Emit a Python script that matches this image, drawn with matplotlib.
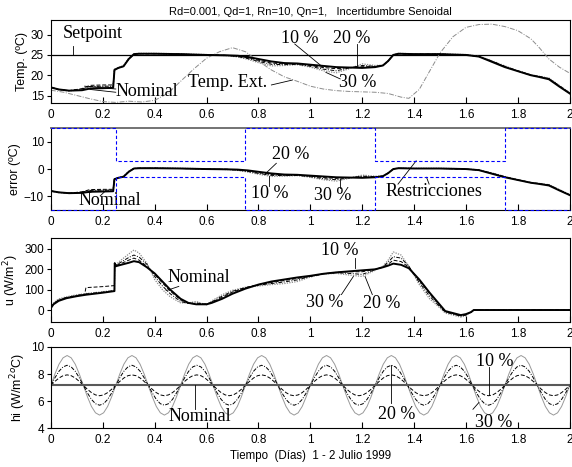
import numpy as np
import matplotlib
matplotlib.use("Agg")
import matplotlib.pyplot as plt

plt.rcParams['font.family'] = ['Liberation Sans', 'DejaVu Sans']
SERIF = ['Liberation Serif', 'DejaVu Serif']

# ---- panel 1 / 2 : inside temperature (error = T - setpoint) ----
setpoint = 25.0
x_t = [0, 0.03, 0.07, 0.12, 0.15, 0.2, 0.24, 0.245, 0.26, 0.28, 0.30, 0.32, 0.34, 0.4, 0.5,
       0.6, 0.68, 0.72, 0.76, 0.8, 0.85, 0.9, 0.95, 1.0, 1.05, 1.1, 1.15, 1.2, 1.25, 1.28,
       1.30, 1.32, 1.34, 1.4, 1.5, 1.6, 1.65, 1.7, 1.75, 1.8, 1.85, 1.88, 1.92, 1.96, 2.0]
t_nom = [17.0, 16.5, 16.2, 16.3, 16.7, 16.8, 16.9, 21.3, 21.8, 22.2, 24.0, 25.2, 25.3, 25.3, 25.2,
         25.0, 24.9, 24.8, 24.5, 24.0, 23.4, 23.0, 22.9, 22.6, 22.3, 22.0, 21.9, 21.8, 22.0, 22.4,
         23.5, 25.0, 25.3, 25.2, 25.2, 25.0, 24.6, 23.3, 22.0, 21.0, 20.0, 19.6, 19.0, 17.2, 15.5]
t_10 = [17.0, 16.5, 16.2, 16.7, 17.5, 17.6, 17.6, 21.5, 21.8, 22.2, 24.0, 25.2, 25.3, 25.3, 25.2,
        25.0, 24.9, 24.7, 24.3, 23.7, 23.0, 22.8, 22.8, 22.4, 21.9, 21.6, 21.9, 22.1, 22.1, 22.4,
        23.5, 25.0, 25.3, 25.2, 25.2, 25.0, 24.6, 23.4, 22.1, 21.1, 20.1, 19.7, 19.1, 17.3, 15.5]
t_20 = [17.0, 16.5, 16.2, 16.6, 17.2, 17.3, 17.3, 21.4, 21.8, 22.2, 24.0, 25.2, 25.3, 25.3, 25.2,
        25.0, 24.9, 24.6, 24.1, 23.4, 22.7, 22.6, 22.7, 22.2, 21.5, 21.1, 21.8, 22.4, 22.2, 22.4,
        23.5, 25.0, 25.3, 25.2, 25.2, 25.0, 24.6, 23.5, 22.2, 21.0, 20.0, 19.7, 19.2, 17.4, 15.6]
t_30 = [16.9, 16.4, 16.1, 16.5, 17.1, 17.2, 17.2, 21.3, 21.9, 22.4, 24.2, 25.3, 25.4, 25.4, 25.3,
        25.1, 24.8, 24.5, 23.9, 23.1, 22.3, 22.4, 22.6, 22.0, 21.1, 20.6, 21.6, 22.8, 22.4, 22.5,
        23.6, 25.1, 25.4, 25.3, 25.3, 25.1, 24.7, 23.6, 22.3, 21.1, 20.1, 19.8, 19.3, 17.5, 15.7]

x_ext = [0, 0.05, 0.1, 0.15, 0.2, 0.25, 0.3, 0.35, 0.4, 0.45, 0.5, 0.55, 0.6, 0.65, 0.7, 0.75,
         0.8, 0.85, 0.9, 0.95, 1.0, 1.05, 1.1, 1.15, 1.2, 1.25, 1.3, 1.35, 1.38, 1.42, 1.46, 1.5,
         1.55, 1.6, 1.65, 1.7, 1.75, 1.8, 1.85, 1.88, 1.92, 1.96, 2.0]
t_ext = [16.3, 15.8, 15.0, 14.2, 13.5, 13.3, 13.6, 13.4, 13.8, 15.5, 18.5, 21.5, 24.2, 25.8, 26.8, 25.8,
         23.5, 21.3, 19.6, 18.5, 17.3, 16.6, 16.2, 16.0, 15.9, 15.8, 15.5, 14.6, 14.3, 16.5, 21.0, 25.5,
         29.5, 31.8, 32.5, 32.6, 32.0, 31.0, 29.0, 27.0, 24.0, 22.0, 20.5]

# constraints on the error
x_lim = [0, 0.25, 0.75, 1.25, 1.75, 2.0]
lim_up = [15, 3, 15, 3, 15, 15]
lim_lo = [-15, -3, -15, -3, -15, -15]

# ---- panel 3 : control u ----
x_u = [0, 0.01, 0.03, 0.06, 0.1, 0.13, 0.135, 0.2, 0.245, 0.246, 0.25, 0.27, 0.3, 0.32, 0.34,
       0.37, 0.4, 0.43, 0.46, 0.5, 0.53, 0.56, 0.6, 0.62, 0.66, 0.7, 0.75, 0.8, 0.85, 0.9,
       0.95, 1.0, 1.05, 1.1, 1.15, 1.2, 1.25, 1.28, 1.3, 1.32, 1.35, 1.38, 1.42, 1.46, 1.5,
       1.52, 1.55, 1.58, 1.6, 1.62, 1.63, 1.7, 1.8, 2.0]
u_nom = [10, 28, 45, 58, 68, 74, 75, 85, 93, 230, 215, 222, 232, 240, 235,
         210, 180, 140, 100, 55, 35, 28, 28, 35, 55, 80, 105, 125, 140, 150,
         160, 168, 178, 185, 190, 195, 200, 210, 218, 228, 222, 205, 150, 85, 25,
         -5, -15, -25, -20, -10, 0, 0, 0, 0]
u_10 = [10, 30, 48, 60, 70, 76, 110, 115, 120, 230, 218, 228, 245, 255, 245,
        215, 175, 133, 93, 50, 33, 30, 30, 38, 62, 88, 110, 125, 135, 145,
        155, 165, 178, 185, 188, 188, 200, 210, 225, 245, 238, 210, 145, 80, 22,
        -8, -18, -28, -22, -10, 0, 0, 0, 0]
u_20 = [10, 32, 50, 62, 72, 78, 79, 88, 95, 230, 220, 235, 258, 270, 260,
        225, 165, 118, 80, 42, 32, 35, 28, 40, 68, 92, 110, 122, 130, 138,
        148, 165, 178, 183, 180, 175, 198, 212, 235, 262, 255, 215, 135, 68, 15,
        -10, -20, -30, -25, -10, 0, 0, 0, 0]
u_30 = [10, 35, 55, 65, 75, 80, 81, 90, 97, 230, 222, 245, 275, 295, 280,
        230, 150, 100, 65, 35, 35, 42, 25, 45, 75, 97, 112, 118, 125, 130,
        140, 162, 177, 180, 172, 165, 195, 215, 245, 285, 270, 215, 125, 55, 10,
        -15, -25, -35, -28, -10, 0, 0, 0, 0]

# ---- panel 4 : hi, one period (0.25 day) sampled every 1/64 day ----
hi_nom = 7.17
hi_10 = [7.17, 7.46, 7.71, 7.88, 7.94, 7.88, 7.71, 7.46, 7.17, 6.88, 6.63, 6.46, 6.40, 6.46, 6.63, 6.88]
hi_20 = [7.17, 7.73, 8.21, 8.53, 8.65, 8.53, 8.21, 7.73, 7.17, 6.61, 6.13, 5.81, 5.70, 5.81, 6.13, 6.61]
hi_30 = [7.17, 8.01, 8.73, 9.20, 9.37, 9.20, 8.73, 8.01, 7.17, 6.33, 5.61, 5.14, 4.97, 5.14, 5.61, 6.33]
n_periods = 8

x_ticks = [0, 0.2, 0.4, 0.6, 0.8, 1, 1.2, 1.4, 1.6, 1.8, 2]
x_ticklabels = ['0', '0.2', '0.4', '0.6', '0.8', '1', '1.2', '1.4', '1.6', '1.8', '2']

nom_kw = dict(color='black', lw=1.4)
s10 = dict(color='black', lw=0.7, ls=(0, (4, 2)))
s20 = dict(color='black', lw=0.7, ls=(0, (4, 1.5, 1, 1.5)))
s30 = dict(color='0.55', lw=0.9, ls=(0, (1, 1)))
lead = dict(color='black', lw=0.6)


def setup(ax, ylim, yticks):
    ax.set_xlim(0, 2)
    ax.set_ylim(*ylim)
    ax.set_yticks(yticks)
    ax.set_xticks(x_ticks)
    ax.set_xticklabels(x_ticklabels)
    ax.tick_params(axis='x', direction='in', length=4, labelsize=8.5, pad=4)
    ax.tick_params(axis='y', direction='out', length=3, labelsize=8.5, pad=2)
    for sp in ax.spines.values():
        sp.set_linewidth(0.8)


def txt(ax, x, y, s):
    ax.text(x, y, s, family=SERIF, fontsize=13, va='center', ha='left')


def ln(ax, x0, y0, x1, y1):
    ax.plot([x0, x1], [y0, y1], **lead)


fig = plt.figure(figsize=(5.72, 4.67), dpi=100)
L, W = 0.089, 0.907
ax1 = fig.add_axes([L, 0.779, W, 0.178])
ax2 = fig.add_axes([L, 0.550, W, 0.176])
ax3 = fig.add_axes([L, 0.310, W, 0.180])
ax4 = fig.add_axes([L, 0.083, W, 0.174])

# panel 1
ax1.axhline(setpoint, color='black', lw=0.9)
ax1.plot(x_ext, t_ext, color='0.55', lw=0.7, ls=(0, (5, 1.5, 1, 1.5)))
ax1.plot(x_t, t_30, **s30)
ax1.plot(x_t, t_20, **s20)
ax1.plot(x_t, t_10, **s10)
ax1.plot(x_t, t_nom, **nom_kw)
setup(ax1, (13.1, 33.6), [15, 20, 25, 30])
ax1.set_ylabel('Temp. (ºC)', fontsize=9, labelpad=2)
ax1.set_title('Rd=0.001, Qd=1, Rn=10, Qn=1,   Incertidumbre Senoidal', fontsize=8, pad=4)
txt(ax1, 0.045, 30.2, 'Setpoint')
ln(ax1, 0.087, 25, 0.087, 27.2)
txt(ax1, 0.25, 16.0, 'Nominal')
ln(ax1, 0.25, 16.6, 0.13, 17.3)
ln(ax1, 0.25, 15.8, 0.15, 16.5)
txt(ax1, 0.53, 18.3, 'Temp. Ext.')
ln(ax1, 0.85, 17.6, 0.93, 18.8)
txt(ax1, 0.887, 29.0, '10 %')
ln(ax1, 0.94, 27.7, 1.05, 21.9)
txt(ax1, 1.087, 29.0, '20 %')
ln(ax1, 1.18, 27.6, 1.18, 22.3)
txt(ax1, 1.11, 18.3, '30 %')
ln(ax1, 1.115, 19.1, 1.06, 20.7)

# panel 2
e_nom = np.array(t_nom) - setpoint
e_10 = np.array(t_10) - setpoint
e_20 = np.array(t_20) - setpoint
e_30 = np.array(t_30) - setpoint
ax2.plot(x_t, e_30, **s30)
ax2.plot(x_t, e_20, **s20)
ax2.plot(x_t, e_10, **s10)
ax2.plot(x_t, e_nom, **nom_kw)
ax2.step(x_lim, lim_up, where='post', color='blue', lw=0.8, ls=(0, (3, 2)), clip_on=False, zorder=5)
ax2.step(x_lim, lim_lo, where='post', color='blue', lw=0.8, ls=(0, (3, 2)), clip_on=False, zorder=5)
setup(ax2, (-15, 15), [-10, 0, 10])
ax2.spines['top'].set_color('0.45')
ax2.spines['top'].set_linewidth(1.4)
ax2.set_ylabel('error (ºC)', fontsize=9, labelpad=2)
txt(ax2, 0.852, 5.4, '20 %')
ln(ax2, 0.869, 2.1, 0.828, -1.6)
txt(ax2, 0.772, -9.0, '10 %')
ln(ax2, 0.84, -6.3, 0.84, -2.4)
txt(ax2, 1.014, -9.6, '30 %')
ln(ax2, 1.113, -6.8, 1.113, -3.7)
txt(ax2, 0.106, -11.5, 'Nominal')
ln(ax2, 0.19, -9.8, 0.21, -8.0)
txt(ax2, 1.29, -8.2, 'Restricciones')
ln(ax2, 1.338, -5.5, 1.408, 3.0)
ln(ax2, 1.458, -5.5, 1.448, -3.0)

# panel 3
ax3.plot(x_u, u_30, **s30)
ax3.plot(x_u, u_20, **s20)
ax3.plot(x_u, u_10, **s10)
ax3.plot(x_u, u_nom, **nom_kw)
setup(ax3, (-60, 353), [0, 100, 200, 300])
ax3.set_ylabel('u (W/m$^2$)', fontsize=9, labelpad=2)
txt(ax3, 0.448, 159, 'Nominal')
ln(ax3, 0.493, 116, 0.444, 95)
txt(ax3, 1.042, 292, '10 %')
ln(ax3, 1.172, 254, 1.172, 204)
txt(ax3, 0.983, 35, '30 %')
ln(ax3, 1.12, 76, 1.166, 165)
txt(ax3, 1.204, 30, '20 %')
ln(ax3, 1.239, 76, 1.211, 165)

# panel 4
x_hi = np.arange(n_periods * len(hi_10) + 1) / 64.0
ax4.plot(x_hi, np.append(np.tile(hi_30, n_periods), hi_30[0]), color='0.6', lw=0.7)
ax4.plot(x_hi, np.append(np.tile(hi_20, n_periods), hi_20[0]), **s20)
ax4.plot(x_hi, np.append(np.tile(hi_10, n_periods), hi_10[0]), **s10)
ax4.axhline(hi_nom, color='0.35', lw=1.5)
setup(ax4, (4, 10), [4, 6, 8, 10])
ax4.set_ylabel('hi (W/m$^2$$^o$C)', fontsize=9, labelpad=2)
ax4.set_xlabel('Tiempo  (Días)  1 - 2 Julio 1999', fontsize=8.3, labelpad=3)
txt(ax4, 0.454, 4.9, 'Nominal')
ln(ax4, 0.556, 5.4, 0.556, 7.17)
txt(ax4, 1.26, 5.0, '20 %')
ln(ax4, 1.3125, 5.9, 1.3125, 8.65)
txt(ax4, 1.64, 8.9, '10 %')
ln(ax4, 1.6875, 8.5, 1.6875, 6.42)
txt(ax4, 1.634, 4.45, '30 %')
ln(ax4, 1.627, 5.4, 1.65, 5.9)

fig.savefig('out.png', dpi=100)
